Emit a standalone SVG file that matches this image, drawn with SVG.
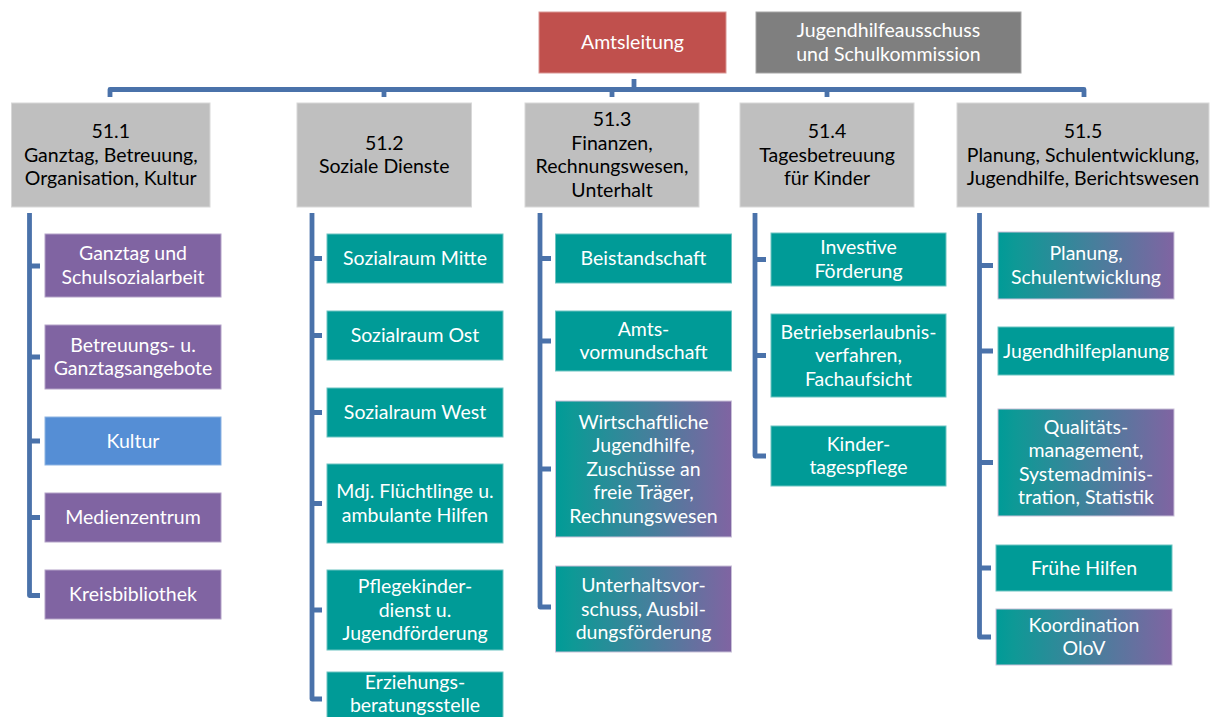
<svg xmlns="http://www.w3.org/2000/svg" width="1210" height="717" viewBox="0 0 1210 717">
<style>
.t{font-family:Lato,"Open Sans","Liberation Sans",sans-serif;font-size:19.5px;text-anchor:middle}
.w{fill:#fff}
.k{fill:#000}
.grey{fill:#BFBFBF;stroke:#d8d8d8;stroke-width:1}
.teal{fill:#009B97;stroke:#6cc4c1;stroke-width:1}
.purple{fill:#8064A2;stroke:#b3a2c7;stroke-width:1}
.blue{fill:#558ED5;stroke:#8db3e2;stroke-width:1}
.grad{fill:url(#tp);stroke:#c9c0d8;stroke-width:1}
.con{fill:none;stroke:#4A72AA;stroke-width:4.8;stroke-linejoin:round;stroke-linecap:butt}
</style>
<defs>
<linearGradient id="tp" x1="0" y1="0" x2="1" y2="0">
<stop offset="0" stop-color="#009B97"/>
<stop offset="0.1" stop-color="#0E9996"/>
<stop offset="1" stop-color="#8064A2"/>
</linearGradient>
</defs>
<rect width="1210" height="717" fill="#fff"/>
<g id="connectors">
<path class="con" d="M634,79 V89.5"/>
<path class="con" d="M110,97 V89.5 H1084 V97"/>
<path class="con" d="M384,89.5 V97 M612,89.5 V97 M827,89.5 V97"/>
<path class="con" d="M29.5,213 V595.5 H40 M29.5,266 H40 M29.5,357 H40 M29.5,441 H40 M29.5,517.5 H40"/>
<path class="con" d="M312,213 V699 H322 M312,258.5 H322 M312,335.5 H322 M312,412.5 H322 M312,503.5 H322 M312,610 H322"/>
<path class="con" d="M540,213 V607 H551 M540,258.5 H551 M540,341 H551 M540,469 H551"/>
<path class="con" d="M755,213 V456 H766 M755,259.5 H766 M755,355.5 H766"/>
<path class="con" d="M979.5,213 V637 H991 M979.5,265.5 H993 M979.5,351 H993 M979.5,462.5 H993 M979.5,568 H991"/>
</g>
<g id="amtsleitung"><rect x="539" y="12" width="187" height="61" fill="#C0504D" stroke="#d99694" stroke-width="1"/><text class="t w" x="632.5" y="49">Amtsleitung</text></g>
<g id="jugendhilfeausschuss"><rect x="756" y="12" width="265" height="61" fill="#7F7F7F" stroke="#a6a6a6" stroke-width="1"/><text class="t w" x="888.5" y="37.3">Jugendhilfeausschuss</text><text class="t w" x="888.5" y="60.8">und Schulkommission</text></g>
<g id="n511"><rect class="grey" x="11.5" y="103" width="198.5" height="104"/><text class="t k" x="110.75" y="138.3">51.1</text><text class="t k" x="110.75" y="161.8">Ganztag, Betreuung,</text><text class="t k" x="110.75" y="185.3">Organisation, Kultur</text></g>
<g id="n512"><rect class="grey" x="297" y="103" width="174.5" height="104"/><text class="t k" x="384.25" y="149.8">51.2</text><text class="t k" x="384.25" y="173.3">Soziale Dienste</text></g>
<g id="n513"><rect class="grey" x="525" y="103" width="174" height="104"/><text class="t k" x="612" y="126.3">51.3</text><text class="t k" x="612" y="149.8">Finanzen,</text><text class="t k" x="612" y="173.3">Rechnungswesen,</text><text class="t k" x="612" y="196.8">Unterhalt</text></g>
<g id="n514"><rect class="grey" x="740" y="103" width="174" height="104"/><text class="t k" x="827" y="138.3">51.4</text><text class="t k" x="827" y="161.8">Tagesbetreuung</text><text class="t k" x="827" y="185.3">für Kinder</text></g>
<g id="n515"><rect class="grey" x="957" y="103" width="252" height="104"/><text class="t k" x="1083" y="138.3">51.5</text><text class="t k" x="1083" y="161.8">Planung, Schulentwicklung,</text><text class="t k" x="1083" y="185.3">Jugendhilfe, Berichtswesen</text></g>
<g id="ganztag"><rect class="purple" x="45" y="234" width="176" height="63"/><text class="t w" x="133" y="260.3">Ganztag und</text><text class="t w" x="133" y="283.8">Schulsozialarbeit</text></g>
<g id="betreuung"><rect class="purple" x="45" y="325" width="176" height="64"/><text class="t w" x="133" y="351.8">Betreuungs- u.</text><text class="t w" x="133" y="375.3">Ganztagsangebote</text></g>
<g id="kultur"><rect class="blue" x="45" y="417" width="176" height="48"/><text class="t w" x="133" y="447.6">Kultur</text></g>
<g id="medienzentrum"><rect class="purple" x="45" y="493" width="176" height="49"/><text class="t w" x="133" y="524.1">Medienzentrum</text></g>
<g id="kreisbibliothek"><rect class="purple" x="45" y="570" width="176" height="49"/><text class="t w" x="133" y="601.1">Kreisbibliothek</text></g>
<g id="sr-mitte"><rect class="teal" x="327" y="234" width="176" height="49"/><text class="t w" x="415" y="265.1">Sozialraum Mitte</text></g>
<g id="sr-ost"><rect class="teal" x="327" y="311" width="176" height="49"/><text class="t w" x="415" y="342.1">Sozialraum Ost</text></g>
<g id="sr-west"><rect class="teal" x="327" y="388" width="176" height="49"/><text class="t w" x="415" y="419.1">Sozialraum West</text></g>
<g id="mdj"><rect class="teal" x="327" y="464" width="176" height="79"/><text class="t w" x="415" y="498.3">Mdj. Flüchtlinge u.</text><text class="t w" x="415" y="521.8">ambulante Hilfen</text></g>
<g id="pflegekinder"><rect class="teal" x="327" y="570" width="176" height="80"/><text class="t w" x="415" y="593.1">Pflegekinder-</text><text class="t w" x="415" y="616.6">dienst u.</text><text class="t w" x="415" y="640.1">Jugendförderung</text></g>
<g id="erziehung"><rect class="teal" x="327" y="672" width="176" height="60"/><text class="t w" x="415" y="688.5">Erziehungs-</text><text class="t w" x="415" y="712">beratungsstelle</text></g>
<g id="beistandschaft"><rect class="teal" x="555.5" y="234" width="176" height="49"/><text class="t w" x="643.5" y="265.1">Beistandschaft</text></g>
<g id="amtsvormundschaft"><rect class="teal" x="555.5" y="311" width="176" height="60"/><text class="t w" x="643.5" y="335.8">Amts-</text><text class="t w" x="643.5" y="359.3">vormundschaft</text></g>
<g id="wirtschaftliche"><rect class="grad" x="555.5" y="401" width="176" height="136"/><text class="t w" x="643.5" y="428.6">Wirtschaftliche</text><text class="t w" x="643.5" y="452.1">Jugendhilfe,</text><text class="t w" x="643.5" y="475.6">Zuschüsse an</text><text class="t w" x="643.5" y="499.1">freie Träger,</text><text class="t w" x="643.5" y="522.6">Rechnungswesen</text></g>
<g id="unterhalt"><rect class="grad" x="555.5" y="566" width="176" height="86"/><text class="t w" x="643.5" y="592.1">Unterhaltsvor-</text><text class="t w" x="643.5" y="615.6">schuss, Ausbil-</text><text class="t w" x="643.5" y="639.1">dungsförderung</text></g>
<g id="investive"><rect class="teal" x="771" y="233" width="175" height="53"/><text class="t w" x="858.5" y="254.3">Investive</text><text class="t w" x="858.5" y="277.8">Förderung</text></g>
<g id="betriebserlaubnis"><rect class="teal" x="771" y="314" width="175" height="83"/><text class="t w" x="858.5" y="338.6">Betriebserlaubnis-</text><text class="t w" x="858.5" y="362.1">verfahren,</text><text class="t w" x="858.5" y="385.6">Fachaufsicht</text></g>
<g id="kindertagespflege"><rect class="teal" x="771" y="426" width="175" height="60"/><text class="t w" x="858.5" y="450.8">Kinder-</text><text class="t w" x="858.5" y="474.3">tagespflege</text></g>
<g id="planung"><rect class="grad" x="998" y="232" width="176" height="67"/><text class="t w" x="1086" y="260.3">Planung,</text><text class="t w" x="1086" y="283.8">Schulentwicklung</text></g>
<g id="jugendhilfeplanung"><rect class="teal" x="998" y="327" width="176" height="48"/><text class="t w" x="1086" y="357.6">Jugendhilfeplanung</text></g>
<g id="qualitaet"><rect class="grad" x="998" y="409" width="176" height="107"/><text class="t w" x="1086" y="433.9">Qualitäts-</text><text class="t w" x="1086" y="457.4">management,</text><text class="t w" x="1086" y="480.9">Systemadminis-</text><text class="t w" x="1086" y="504.4">tration, Statistik</text></g>
<g id="fruehe-hilfen"><rect class="teal" x="996" y="545" width="176" height="46"/><text class="t w" x="1084" y="574.6">Frühe Hilfen</text></g>
<g id="koordination"><rect class="grad" x="996" y="609" width="176" height="56"/><text class="t w" x="1084" y="631.8">Koordination</text><text class="t w" x="1084" y="655.3">OloV</text></g>
</svg>
